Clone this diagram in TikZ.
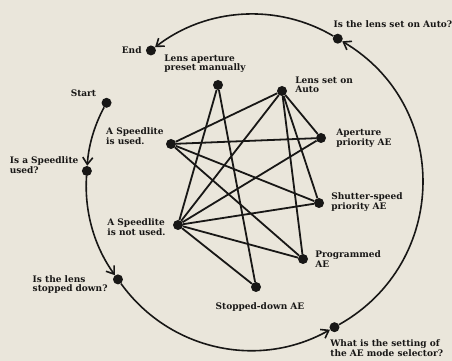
\documentclass[tikz,border=0pt]{standalone}
\usepackage{fontspec}
\setmainfont{DejaVu Serif}
\usepackage{tikz}
\usetikzlibrary{positioning, arrows.meta, calc}
\definecolor{paper}{RGB}{234, 230, 219}
\definecolor{ink}{RGB}{24, 23, 22}
\tikzset{
  dot/.style={
    circle,
    fill=ink,
    draw=none,
    minimum size=10pt,
    inner sep=0pt
  },
  caption/.style={
    inner sep=1pt,
    align=left,
    text=ink,
    font=\fontsize{9pt}{9.5pt}\selectfont\bfseries
  },
  every edge/.style={
    draw=ink,
    line width=1.8pt
  },
  flow/.style={
    -{Straight Barb[length=7pt,width=10pt]},
    draw=ink,
    line width=1.6pt
  }
}

\begin{document}
\begin{tikzpicture}[x=1pt, y=1pt]
          \fill[paper] (0,0) rectangle (452,361);
          \useasboundingbox (0,0) rectangle (452,361);
          \coordinate (ring) at (253,179);

          % outer loop of questions
          \node[dot] (start)    at ($(ring)+(151.6:166.5)$) {};
          \node[dot] (askflash) at ($(ring)+(176.2:166.5)$) {};
          \node[dot] (askstop)  at ($(ring)+(215.8:166.5)$) {};
          \node[dot] (askmode)  at ($(ring)+(299.3:166.5)$) {};
          \node[dot] (askauto)  at ($(ring)+(59.4:166.5)$) {};
          \node[dot] (finish)   at ($(ring)+(127.8:166.5)$) {};

          % inner states
          \node[dot] (manual)   at (218,276) {};
          \node[dot] (auto)     at (282,270) {};
          \node[dot] (flash)    at (171,217) {};
          \node[dot] (aperture) at (321,223) {};
          \node[dot] (shutter)  at (319,158) {};
          \node[dot] (noflash)  at (178,136) {};
          \node[dot] (program)  at (303,102) {};
          \node[dot] (stopdown) at (256,74) {};

          \node[caption, left=4pt of start, yshift=10pt] (start-text) {Start};
          \node[caption, left=3pt of finish] (finish-text) {End};
          \node[caption, left=2pt of askflash, yshift=6pt] (askflash-text) {Is a Speedlite\\used?};
          \node[caption, left=4pt of askstop, yshift=-5pt] (askstop-text) {Is the lens\\stopped down?};
          \node[caption, below right=8pt and -9pt of askmode] (askmode-text) {What is the setting of\\the AE mode selector?};
          \node[caption, above right=6pt and -9pt of askauto] (askauto-text) {Is the lens set on Auto?};
          \node[caption, above=6pt of manual, xshift=-13pt] (manual-text) {Lens aperture\\preset manually};
          \node[caption, right=7pt of auto, yshift=6pt] (auto-text) {Lens set on\\Auto};
          \node[caption, right=9pt of aperture] (aperture-text) {Aperture\\priority AE};
          \node[caption, right=6pt of shutter, yshift=1pt] (shutter-text) {Shutter-speed\\priority AE};
          \node[caption, right=6pt of program] (program-text) {Programmed\\AE};
          \node[caption, below=9pt of stopdown, xshift=4pt] (stopdown-text) {Stopped-down AE};
          \node[caption, left=1pt of flash, yshift=8pt] (flash-text) {A Speedlite\\is used.};
          \node[caption, left=6pt of noflash, yshift=-2pt] (noflash-text) {A Speedlite\\is not used.};

          \path (start) edge[flow, bend right=12.3, looseness=0.86] (askflash)
                (askflash) edge[flow, bend right=19.8, looseness=0.88] (askstop)
                (askstop) edge[flow, bend right=41.75, looseness=0.98] (askmode)
                (askmode) edge[flow, bend right=60, looseness=1.14] (askauto)
                (askauto) edge[flow, bend right=34.2, looseness=0.93] (finish);

          \path (flash) edge (auto)
                (flash) edge (aperture)
                (flash) edge (shutter)
                (flash) edge (program)
                (noflash) edge (manual)
                (noflash) edge (auto)
                (noflash) edge (aperture)
                (noflash) edge (shutter)
                (noflash) edge (program)
                (noflash) edge (stopdown)
                (auto) edge (aperture)
                (auto) edge (shutter)
                (auto) edge (program)
                (manual) edge (stopdown);
        \end{tikzpicture}
\end{document}
